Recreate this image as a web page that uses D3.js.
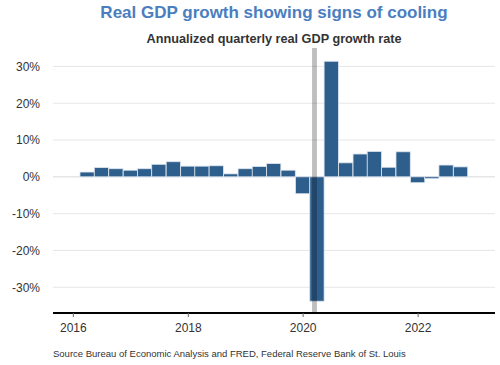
<!DOCTYPE html>
<html>
<head>
<meta charset="utf-8">
<script src="https://cdn.jsdelivr.net/npm/d3@7"></script>
<style>
  body { margin: 0; background: #fff; }
  svg { font-family: "Liberation Sans", Arial, sans-serif; }
</style>
</head>
<body>
<svg id="chart" width="500" height="365"></svg>
<script>
// quarterly data, dated at quarter start
const quarters = [
  "2016-04-01", "2016-07-01", "2016-10-01",
  "2017-01-01", "2017-04-01", "2017-07-01", "2017-10-01",
  "2018-01-01", "2018-04-01", "2018-07-01", "2018-10-01",
  "2019-01-01", "2019-04-01", "2019-07-01", "2019-10-01",
  "2020-01-01", "2020-04-01", "2020-07-01", "2020-10-01",
  "2021-01-01", "2021-04-01", "2021-07-01", "2021-10-01",
  "2022-01-01", "2022-04-01", "2022-07-01", "2022-10-01"
];
const growth = [
  1.3, 2.5, 2.2,
  1.8, 2.2, 3.4, 4.1,
  2.9, 2.9, 3.0, 0.8,
  2.2, 2.8, 3.6, 1.8,
  -4.6, -33.8, 31.4, 3.8,
  6.2, 6.9, 2.6, 6.8,
  -1.6, -0.5, 3.2, 2.7
];
const recession = ["2020-03-01", "2020-04-01"];
const yTicks = [-30, -20, -10, 0, 10, 20, 30];
const xTickYears = [2016, 2018, 2020, 2022];

const svg = d3.select("#chart");
const margin = { top: 48, right: 5, bottom: 52, left: 53 };
const width = 500 - margin.left - margin.right;
const height = 365 - margin.top - margin.bottom;

const parse = d3.timeParse("%Y-%m-%d");
const data = quarters.map((q, i) => ({ date: parse(q), value: growth[i] }));

const x = d3.scaleTime()
  .domain([parse("2015-08-28"), parse("2023-05-08")])
  .range([0, width]);
const y = d3.scaleLinear().domain([-37, 35]).range([height, 0]);

const g = svg.append("g").attr("transform", `translate(${margin.left},${margin.top})`);

// titles
svg.append("text")
  .attr("x", 274).attr("y", 18)
  .attr("text-anchor", "middle")
  .style("font-size", "17px").style("font-weight", "bold")
  .style("fill", "#4a7ebf")
  .text("Real GDP growth showing signs of cooling");
svg.append("text")
  .attr("x", 274).attr("y", 43)
  .attr("text-anchor", "middle")
  .style("font-size", "12.7px").style("font-weight", "bold")
  .style("fill", "#333")
  .text("Annualized quarterly real GDP growth rate");

// gridlines
g.selectAll(".grid")
  .data(yTicks)
  .enter().append("line")
  .attr("class", "grid")
  .attr("x1", 0).attr("x2", width)
  .attr("y1", d => y(d)).attr("y2", d => y(d))
  .style("stroke", "#e6e6e6")
  .style("stroke-width", d => d === 0 ? 1.5 : 1);

// y axis labels
const yAxis = g.append("g")
  .call(d3.axisLeft(y).tickValues(yTicks).tickSize(0).tickPadding(13).tickFormat(d => d + "%"));
yAxis.select(".domain").remove();
yAxis.selectAll("text").style("font-size", "12px").style("fill", "#333");

// bars
const barW = x(parse("2016-07-01")) - x(parse("2016-04-01"));
g.selectAll(".bar")
  .data(data)
  .enter().append("rect")
  .attr("class", "bar")
  .attr("x", d => x(d.date) - barW / 2)
  .attr("width", barW)
  .attr("y", d => y(Math.max(0, d.value)))
  .attr("height", d => Math.abs(y(d.value) - y(0)))
  .style("fill", "#2e5e8c")
  .style("stroke", "#dde6ef")
  .style("stroke-width", 0.8);

// recession shading
g.append("rect")
  .attr("x", x(parse(recession[0])))
  .attr("width", x(parse(recession[1])) - x(parse(recession[0])))
  .attr("y", 0).attr("height", height)
  .style("fill", "#000").style("opacity", 0.25);

// x axis
const xAxis = g.append("g")
  .attr("transform", `translate(0,${height})`)
  .call(d3.axisBottom(x)
    .tickValues(xTickYears.map(yr => new Date(yr, 0, 1)))
    .tickSize(4).tickPadding(6)
    .tickFormat(d3.timeFormat("%Y")));
xAxis.select(".domain").style("stroke", "#000").style("stroke-width", 2).attr("d", `M0,0H${width}`);
xAxis.selectAll(".tick line").style("stroke", "#666");
xAxis.selectAll("text").style("font-size", "12px").style("fill", "#333");

// source
svg.append("text")
  .attr("x", 53).attr("y", 357)
  .style("font-size", "9.5px").style("fill", "#333")
  .text("Source Bureau of Economic Analysis and FRED, Federal Reserve Bank of St. Louis");
</script>
</body>
</html>
